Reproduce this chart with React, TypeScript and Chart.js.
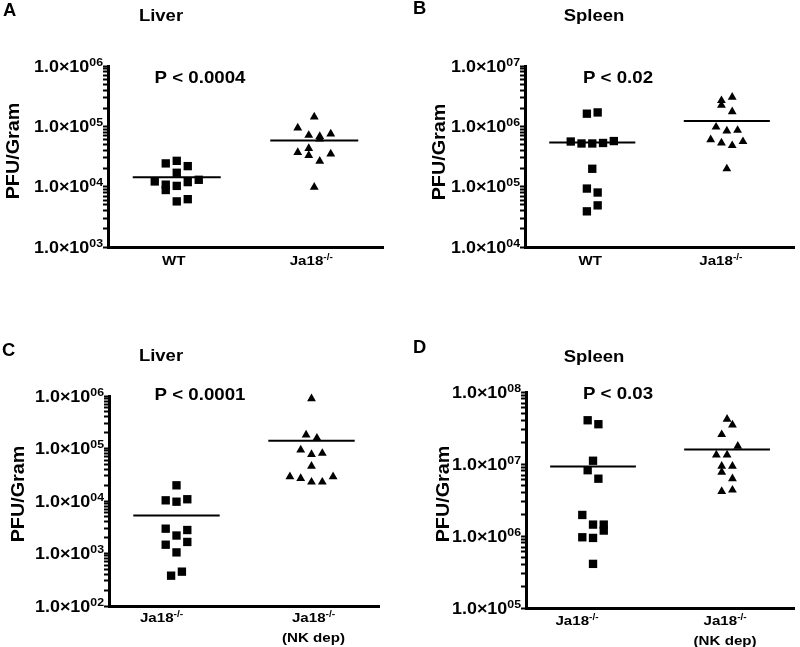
import React, { useEffect, useRef } from "react";
import { Chart, registerables } from "chart.js";

Chart.register(...registerables);

// ---------------- DATA ----------------
const panelLetters = ["A", "B", "C", "D"];
const panelTitles = ["Liver", "Spleen", "Liver", "Spleen"];
const pValueLabels = ["P < 0.0004", "P < 0.02", "P < 0.0001", "P < 0.03"];
const yAxisLabel = "PFU/Gram";

// category labels ("^" starts a superscript, "\n" a new line)
const categoriesAB = ["WT", "Ja18^-/-"];
const categoriesCD = ["Ja18^-/-", "Ja18^-/-\n(NK dep)"];

// y ranges (PFU/Gram, log scale)
const rangeA = [1e3, 1e6];
const rangeB = [1e4, 1e7];
const rangeC = [1e2, 1e6];
const rangeD = [1e5, 1e8];

// Panel A – Liver
const aWT = [2.43e4, 2.68e4, 2.19e4, 1.7e4, 1.22e4, 1.08e4, 1.03e4, 1.19e4, 1.3e4, 8.8e3, 5.7e3, 6.2e3];
const aWTJitter = [-1, 0, 1, 0, -2, -1, 0, 1, 2, -1, 0, 1];
const aJa18 = [1.43e5, 9.4e4, 7.1e4, 6.8e4, 7.5e4, 6.2e4, 4.3e4, 3.7e4, 3.3e4, 3.5e4, 2.65e4, 9.8e3];
const aJa18Jitter = [0, -1.5, -0.5, 0.5, 1.5, 0.5, -0.5, -1.5, -0.5, 1.5, 0.5, 0];
const aMeans = [1.43e4, 5.8e4];

// Panel B – Spleen
const bWT = [1.62e6, 1.7e6, 5.6e5, 5.2e5, 5.2e5, 5.3e5, 5.7e5, 1.98e5, 9.3e4, 8.0e4, 4.9e4, 3.9e4];
const bWTJitter = [-0.5, 0.5, -2, -1, 0, 1, 2, 0, -0.5, 0.5, 0.5, -0.5];
const bJa18 = [2.68e6, 2.25e6, 3.05e6, 1.75e6, 9.75e5, 8.4e5, 8.6e5, 6.0e5, 5.3e5, 4.8e5, 5.6e5, 1.98e5];
const bJa18Jitter = [-0.5, -0.5, 0.5, 0.5, -1, 0, 1, -1.5, -0.5, 0.5, 1.5, 0];
const bMeans = [5.4e5, 1.22e6];

// Panel C – Liver
const cJa18 = [1.99e4, 1.03e4, 9.7e3, 1.08e4, 2.97e3, 2.8e3, 2.2e3, 1.66e3, 1.47e3, 1.05e3, 378, 451];
const cJa18Jitter = [0, -1, 0, 1, -1, 1, 0, 1, -1, 0, -0.5, 0.5];
const cNK = [8.9e5, 1.81e5, 1.58e5, 9.4e4, 7.7e4, 8.1e4, 4.6e4, 2.9e4, 2.7e4, 2.3e4, 2.3e4, 2.9e4];
const cNKJitter = [0, -0.5, 0.5, -1, 0, 1, 0, -2, -1, 0, 1, 2];
const cMeans = [5.3e3, 1.41e5];

// Panel D – Spleen
const dJa18 = [4.05e7, 3.57e7, 1.11e7, 8.2e6, 6.25e6, 1.96e6, 1.44e6, 1.44e6, 1.19e6, 9.6e5, 9.4e5, 4.1e5];
const dJa18Jitter = [-0.5, 0.5, 0, -0.5, 0.5, -1, 0, 1, 1, -1, 0, 0];
const dNK = [4.19e7, 3.49e7, 2.57e7, 1.77e7, 1.34e7, 1.34e7, 9.35e6, 9.35e6, 7.7e6, 6.25e6, 4.17e6, 4.35e6];
const dNKJitter = [0, 0.5, -0.5, 1, -1, 0, -0.5, 0.5, -0.5, 0.5, -0.5, 0.5];
const dMeans = [9.2e6, 1.59e7];

// ---------------- LAYOUT / STYLE ----------------
const W = 800;
const H = 647;
const JITTER_STEP = 0.08; // x-axis units per jitter column
const MEAN_HALF = 0.32;
const FONT = '"Liberation Sans", Arial, Helvetica, sans-serif';
const SX = 1.12; // horizontal text stretch of the original figure

type Layout = {
  area: { l: number; r: number; t: number; b: number };
  letter: [number, number];
  title: [number, number];
  p: [number, number];
  ylab: [number, number];
  xlabY: number;
  xlabDx: number[];
};

const layouts: Layout[] = [
  { area: { l: 108, r: 383, t: 66, b: 247 }, letter: [3, 11], title: [161, 16], p: [200, 78], ylab: [14, 151], xlabY: 260, xlabDx: [-3, -3] },
  { area: { l: 525, r: 798, t: 66, b: 247 }, letter: [413, 9], title: [594, 16], p: [618, 78], ylab: [440, 152], xlabY: 260, xlabDx: [-2, -6] },
  { area: { l: 109, r: 379, t: 396, b: 606 }, letter: [2, 351], title: [161, 356], p: [200, 395], ylab: [19, 494], xlabY: 617, xlabDx: [-15, 2] },
  { area: { l: 526, r: 798, t: 392, b: 608 }, letter: [413, 348], title: [594, 357], p: [618, 394], ylab: [444, 494], xlabY: 620, xlabDx: [-16, -2] },
];
const XLAB_LINE_GAP = 20;

type PanelData = {
  range: number[];
  cats: string[];
  g1: number[];
  g1j: number[];
  g2: number[];
  g2j: number[];
  means: number[];
};

const panelData: PanelData[] = [
  { range: rangeA, cats: categoriesAB, g1: aWT, g1j: aWTJitter, g2: aJa18, g2j: aJa18Jitter, means: aMeans },
  { range: rangeB, cats: categoriesAB, g1: bWT, g1j: bWTJitter, g2: bJa18, g2j: bJa18Jitter, means: bMeans },
  { range: rangeC, cats: categoriesCD, g1: cJa18, g1j: cJa18Jitter, g2: cNK, g2j: cNKJitter, means: cMeans },
  { range: rangeD, cats: categoriesCD, g1: dJa18, g1j: dJa18Jitter, g2: dNK, g2j: dNKJitter, means: dMeans },
];

// ---------------- HELPERS ----------------
const bold = (s: number) => `bold ${s}px ${FONT}`;

function drawText(ctx: CanvasRenderingContext2D, text: string, x: number, y: number, size: number, sx: number, align: CanvasTextAlign) {
  ctx.save();
  ctx.font = bold(size);
  ctx.fillStyle = "#000";
  ctx.textAlign = align;
  ctx.textBaseline = "middle";
  ctx.translate(x, y);
  ctx.scale(sx, 1);
  ctx.fillText(text, 0, 0);
  ctx.restore();
}

function drawSup(
  ctx: CanvasRenderingContext2D,
  main: string,
  sup: string,
  anchorX: number,
  centerY: number,
  size: number,
  supSize: number,
  raise: number,
  align: "center" | "right"
) {
  ctx.save();
  ctx.fillStyle = "#000";
  ctx.font = bold(size);
  const wm = ctx.measureText(main).width * SX;
  ctx.font = bold(supSize);
  const ws = sup ? ctx.measureText(sup).width * SX : 0;
  const total = wm + ws;
  const x0 = align === "right" ? anchorX - total : anchorX - total / 2;
  const baseY = centerY + (size * 0.716) / 2;
  ctx.textAlign = "left";
  ctx.textBaseline = "alphabetic";
  ctx.font = bold(size);
  ctx.save();
  ctx.translate(x0, baseY);
  ctx.scale(SX, 1);
  ctx.fillText(main, 0, 0);
  ctx.restore();
  if (sup) {
    ctx.font = bold(supSize);
    ctx.save();
    ctx.translate(x0 + wm, baseY - raise);
    ctx.scale(SX, 1);
    ctx.fillText(sup, 0, 0);
    ctx.restore();
  }
  ctx.restore();
}

function logTicks(min: number, max: number) {
  const out: { value: number; major: boolean }[] = [];
  const e0 = Math.round(Math.log10(min));
  const e1 = Math.round(Math.log10(max));
  for (let e = e0; e < e1; e++) {
    for (let m = 1; m <= 9; m++) {
      out.push({ value: Number((m * Math.pow(10, e)).toPrecision(3)), major: m === 1 });
    }
  }
  out.push({ value: max, major: true });
  return out;
}

function makeChart(canvas: HTMLCanvasElement, idx: number) {
  const d = panelData[idx];
  const L = layouts[idx];
  const toPts = (vals: number[], jit: number[], cat: number) =>
    vals.map((v, i) => ({ x: cat + jit[i] * JITTER_STEP, y: v }));

  const textPlugin = {
    id: "panelText" + idx,
    afterDraw(chart: any) {
      const ctx: CanvasRenderingContext2D = chart.ctx;
      const xs = chart.scales.x;
      const ys = chart.scales.y;
      drawText(ctx, panelLetters[idx], L.letter[0], L.letter[1], 17.5, 1.05, "left");
      drawText(ctx, panelTitles[idx], L.title[0], L.title[1], 16.5, 1.12, "center");
      drawText(ctx, pValueLabels[idx], L.p[0], L.p[1], 17, 1.1, "center");
      ctx.save();
      ctx.translate(L.ylab[0], L.ylab[1]);
      ctx.rotate(-Math.PI / 2);
      drawText(ctx, yAxisLabel, 0, 0, 17.5, 1.13, "center");
      ctx.restore();
      const e0 = Math.round(Math.log10(d.range[0]));
      const e1 = Math.round(Math.log10(d.range[1]));
      for (let e = e0; e <= e1; e++) {
        const py = ys.getPixelForValue(Math.pow(10, e));
        const exp = (e < 10 ? "0" : "") + e;
        drawSup(ctx, "1.0\u00d710", exp, L.area.l - 5, py, 16, 11, 6, "right");
      }
      d.cats.forEach((c, i) => {
        const px = xs.getPixelForValue(i + 1) + L.xlabDx[i];
        c.split("\n").forEach((line, li) => {
          const [main, sup] = line.split("^");
          drawSup(ctx, main, sup || "", px, L.xlabY + li * XLAB_LINE_GAP, 13.5, 9, 5, "center");
        });
      });
    },
  };

  return new Chart(canvas, {
    type: "scatter",
    data: {
      datasets: [
        {
          data: toPts(d.g1, d.g1j, 1),
          pointStyle: "rect",
          pointRadius: 5.9,
          pointHoverRadius: 5.9,
          borderWidth: 0,
          backgroundColor: "#000",
          borderColor: "#000",
          clip: false,
        },
        {
          data: toPts(d.g2, d.g2j, 2),
          pointStyle: "triangle",
          pointRadius: 5.1,
          pointHoverRadius: 5.1,
          borderWidth: 0,
          backgroundColor: "#000",
          borderColor: "#000",
          clip: false,
        },
        {
          data: [
            { x: 1 - MEAN_HALF, y: d.means[0] },
            { x: 1 + MEAN_HALF, y: d.means[0] },
          ],
          showLine: true,
          pointRadius: 0,
          borderWidth: 2,
          borderColor: "#000",
        },
        {
          data: [
            { x: 2 - MEAN_HALF, y: d.means[1] },
            { x: 2 + MEAN_HALF, y: d.means[1] },
          ],
          showLine: true,
          pointRadius: 0,
          borderWidth: 2,
          borderColor: "#000",
        },
      ],
    },
    options: {
      responsive: false,
      animation: false,
      devicePixelRatio: 1,
      events: [],
      layout: {
        padding: { left: L.area.l, right: W - L.area.r, top: L.area.t, bottom: H - L.area.b },
      },
      plugins: { legend: { display: false }, tooltip: { enabled: false }, title: { display: false } },
      scales: {
        x: {
          type: "linear",
          min: 0.5,
          max: 2.5,
          ticks: { display: false },
          grid: { display: false },
          border: { display: true, color: "#000", width: 3 },
          afterFit: (a: any) => {
            a.height = 0;
          },
        },
        y: {
          type: "logarithmic",
          min: d.range[0],
          max: d.range[1],
          ticks: { display: false },
          grid: {
            display: true,
            drawOnChartArea: false,
            drawTicks: true,
            tickLength: 5,
            tickWidth: 2,
            tickColor: "#000",
          },
          border: { display: true, color: "#000", width: 3 },
          afterBuildTicks: (a: any) => {
            a.ticks = logTicks(d.range[0], d.range[1]);
          },
          afterFit: (a: any) => {
            a.width = 0;
          },
        },
      },
    } as any,
    plugins: [textPlugin],
  } as any);
}

function Panel({ idx }: { idx: number }) {
  const ref = useRef<HTMLCanvasElement>(null);
  useEffect(() => {
    if (!ref.current) return;
    const chart = makeChart(ref.current, idx);
    return () => chart.destroy();
  }, [idx]);
  return (
    <canvas
      ref={ref}
      width={W}
      height={H}
      style={{ position: "absolute", left: 0, top: 0, width: W, height: H, display: "block" }}
    />
  );
}

export default function App() {
  return (
    <div style={{ position: "absolute", left: 0, top: 0, width: W, height: H, background: "#fff", overflow: "hidden" }}>
      {[0, 1, 2, 3].map((i) => (
        <Panel key={i} idx={i} />
      ))}
    </div>
  );
}
